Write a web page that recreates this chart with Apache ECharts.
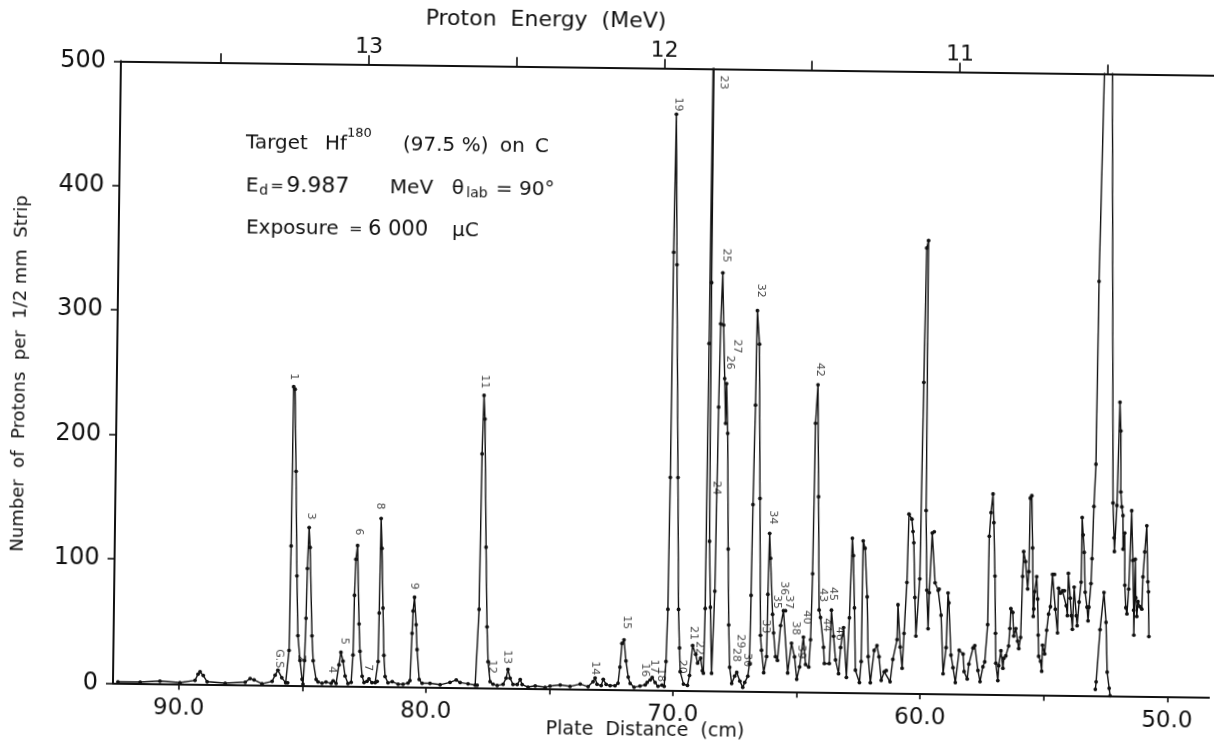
<!DOCTYPE html>
<html>
<head>
<meta charset="utf-8">
<script src="https://cdn.jsdelivr.net/npm/echarts@6/dist/echarts.min.js"></script>
<style>
  html, body { margin: 0; padding: 0; background: #fff; overflow: hidden; }
  /* the original plate plot sits slightly rotated on its page */
  #chart { width: 1214px; height: 742px; transform: rotate(0.733deg); transform-origin: 607px 371px; }
</style>
</head>
<body>
<div id="chart"></div>
<script>
// Proton spectrum, Hf-180 (d,p): plate distance (cm) vs protons per 1/2 mm strip
const plateCm = [
  92.47,91.57,90.77,89.96,89.35,89.23,89.15,89.02,88.86,88.13,87.32,87.12,86.96,86.64,86.23,86.11,86.00,85.84,85.68,85.60,
  85.56,85.53,85.51,85.45,85.37,85.28,85.21,85.11,85.02,84.98,
  84.93,84.89,84.86,84.81,84.76,84.64,84.58,84.45,84.37,84.21,84.05,83.84,83.76,83.64,83.53,83.46,83.37,83.28,83.16,83.03,
  82.97,82.94,82.90,82.84,82.74,82.69,82.59,82.51,82.39,82.31,82.19,82.06,
  81.98,81.95,81.93,81.90,81.85,81.78,81.72,81.66,81.54,81.37,81.13,80.93,80.73,
  80.65,80.59,80.56,80.51,80.43,80.38,80.28,80.16,79.84,79.43,79.03,78.78,78.62,78.30,78.01,
  77.93,77.89,77.85,77.80,77.75,77.64,77.56,77.50,77.41,77.29,77.12,76.88,76.76,76.69,76.60,76.48,76.31,76.19,76.11,75.87,
  75.58,75.18,74.98,74.57,74.17,73.76,73.44,73.24,73.16,73.08,72.91,72.83,72.71,72.55,72.35,72.23,
  72.16,72.09,72.01,71.92,71.82,71.74,71.58,71.34,71.13,71.05,70.93,70.85,70.73,70.61,70.45,70.36,70.30,
  70.25,70.22,70.20,70.16,70.06,69.91,69.82,69.76,69.72,69.58,69.42,69.34,69.23,69.10,69.02,68.90,68.82,68.78,
  68.74,68.72,68.68,68.66,68.65,68.60,68.53,68.45,
  68.36,68.30,68.26,68.20,68.14,68.07,68.01,67.99,67.92,67.84,67.78,67.72,67.63,67.51,67.43,67.30,67.18,67.10,66.98,66.92,
  66.89,66.86,66.81,66.78,66.68,66.58,66.49,66.44,66.34,66.23,66.21,66.17,66.12,66.01,65.96,65.87,65.79,65.68,65.57,65.49,
  65.37,65.23,65.10,65.00,64.89,64.75,64.65,64.52,64.46,
  64.41,64.37,64.29,64.21,64.13,64.07,63.93,63.89,63.69,63.63,63.53,63.44,63.31,63.24,63.13,62.99,62.90,62.82,62.77,62.70,
  62.63,62.46,62.40,62.38,62.30,62.19,62.12,62.02,61.88,61.77,61.68,61.58,61.46,61.38,61.22,61.12,60.96,60.94,60.83,60.74,
  60.68,60.59,60.54,60.42,60.37,60.33,60.26,60.20,60.07,60.01,59.96,59.89,59.85,59.78,59.71,59.68,59.59,59.51,59.45,59.32,
  59.28,59.19,59.08,58.97,58.92,58.88,58.77,58.68,58.58,58.44,58.28,58.23,58.10,58.04,57.88,57.81,57.67,57.58,57.47,57.40,
  57.30,57.28,57.22,57.15,57.10,57.03,56.98,56.95,56.86,56.83,56.75,56.66,56.63,56.55,56.44,56.40,56.37,56.29,56.24,56.16,
  56.08,56.03,55.96,55.91,55.88,55.80,55.70,55.66,55.64,55.58,55.52,55.46,55.44,55.41,55.34,55.29,55.25,55.22,55.14,55.09,
  55.07,54.98,54.91,54.84,54.77,54.70,54.62,54.57,54.47,54.45,54.37,54.29,54.21,54.13,54.08,54.06,53.97,53.92,53.87,53.82,
  53.72,53.68,53.61,53.54,53.53,53.48,53.43,53.37,53.29,53.24,53.21,53.14,53.11,53.06,53.00,52.97,52.78,52.62,52.29,52.23,
  52.21,52.13,52.06,52.01,51.98,51.93,51.88,51.86,51.80,51.77,51.72,51.67,51.61,51.53,51.46,51.40,51.38,51.36,51.32,51.27,
  51.23,51.15,51.07,51.04,50.98,50.91,50.84,50.81,50.77
];
const counts = [
  1,1,2,1,3,8,10,7,2,1,2,5,4,1,3,8,12,6,2,2,
  28,112,240,238,172,88,40,20,5,1,
  20,54,94,127,111,40,20,5,3,2,3,2,4,2,17,27,20,8,2,3,
  25,73,102,113,50,28,8,3,4,6,3,3,
  4,20,59,135,111,63,25,8,3,4,2,2,3,
  5,43,61,72,50,30,6,3,3,2,4,6,4,3,2,
  2,63,188,235,216,113,49,21,5,3,2,3,8,15,8,3,3,7,3,1,
  2,1,2,3,2,4,2,6,9,4,3,8,4,3,3,5,
  18,37,40,23,10,5,2,3,4,6,8,10,6,3,4,3,23,
  65,171,352,463,342,171,65,34,15,5,4,12,36,29,22,26,16,14,
  66,279,700,700,328,120,67,14,
  80,228,295,336,294,251,215,247,207,114,53,19,6,12,15,8,3,7,12,22,
  77,150,230,306,279,155,45,33,15,28,78,127,107,62,47,28,25,53,65,65,
  15,39,28,10,20,44,22,20,42,
  95,216,247,157,66,60,36,23,23,66,45,26,15,36,52,12,60,124,110,68,
  18,8,25,122,116,77,29,8,34,38,29,10,17,18,9,27,43,71,37,20,
  48,89,144,140,130,121,77,46,92,250,358,364,147,83,52,81,129,130,89,83,
  84,63,16,37,81,73,31,21,9,35,32,18,12,24,37,39,19,10,22,26,
  56,127,146,161,138,95,49,25,11,23,35,21,29,31,39,53,69,66,47,53,
  43,37,46,95,115,107,85,99,158,160,118,63,69,83,95,77,48,31,27,19,
  40,33,52,65,71,97,97,69,50,86,82,84,84,72,64,98,78,64,53,87,
  64,56,75,91,143,129,115,83,71,60,71,90,110,152,186,333,620,620,155,127,
  116,153,236,213,164,152,145,118,131,89,71,66,86,149,109,69,49,110,79,64,
  76,72,70,96,116,137,92,84,48
];

// the strongest group again, drawn at reduced scale below the clipped peak
const insetCm = [52.91, 52.88, 52.75, 52.61, 52.51, 52.44, 52.35, 52.31];
const insetCounts = [5, 11, 53, 83, 59, 19, 6, 0];

// peak identifications and where each number is written
const peakNames = ['G.S.','1','2','3','4','5','6','7','8','9','11','12','13','14','15','16','17','18','19','20',
  '21','22','23','24','25','26','27','28','29','30','32','33','34','35','36','37','38','39','40','42','43','44','45','46'];
const peakLabelCm = [85.96,85.51,85.07,84.74,83.82,83.34,82.79,82.36,81.94,80.55,77.77,77.35,76.71,73.17,71.90,71.16,70.79,70.50,70.10,69.65,
  69.22,68.97,68.25,68.36,68.08,67.86,67.59,67.47,67.31,67.02,66.64,66.30,66.04,65.83,65.56,65.34,65.09,64.84,64.61,64.22,63.98,63.80,63.57,63.31];
const peakLabelCounts = [20,248,22,136,13,36,124,15,145,81,246,17,25,17,54,16,19,12,471,19,
  46,34,489,163,350,264,277,29,40,25,322,52,140,72,83,72,51,32,60,259,78,54,79,47];

// axis ticks
const plateTicks = [90, 85, 80, 75, 70, 65, 60, 55, 50];
const plateLabels = [90, 80, 70, 60, 50];
const energyTicks = [13.5, 13, 12.5, 12, 11.5, 11, 10.5];
const energyLabels = [13, 12, 11];

const INK = '#111';
const FONT = '"DejaVu Sans", sans-serif';

const spectrum = plateCm.map((x, i) => [x, counts[i]]);
const inset = insetCm.map((x, i) => [x, insetCounts[i]]);
const labels = peakNames.map((n, i) => [peakLabelCm[i], peakLabelCounts[i], n]);

function txt(text, x, y, size, align) {
  return {
    type: 'text', x: x, y: y, silent: true, z: 50,
    style: { text: text, fill: INK, font: size + 'px ' + FONT, align: align || 'left', verticalAlign: 'middle' }
  };
}

const chart = echarts.init(document.getElementById('chart'), null, { renderer: 'canvas' });
chart.setOption({
  animation: false,
  backgroundColor: '#fff',
  textStyle: { fontFamily: FONT, color: INK },
  grid: { left: 117, right: 0, top: 67.3, bottom: 52.7, outerBoundsMode: 'none' },
  xAxis: [
    {
      type: 'value', position: 'bottom', inverse: true, min: 48.27, max: 92.67,
      axisLine: { show: true, lineStyle: { color: INK, width: 2 } },
      axisTick: { show: true, customValues: plateTicks, length: 6, lineStyle: { color: INK, width: 1.6 } },
      axisLabel: { customValues: plateLabels, formatter: v => v.toFixed(1), fontSize: 23, color: INK, margin: 13, fontFamily: FONT },
      splitLine: { show: false }
    },
    {
      type: 'value', position: 'top', inverse: true, min: 10.127, max: 13.839,
      axisLine: { show: true, lineStyle: { color: INK, width: 2 } },
      axisTick: { show: true, customValues: energyTicks, length: 9, lineStyle: { color: INK, width: 1.6 } },
      axisLabel: { customValues: energyLabels, formatter: v => String(v), fontSize: 22, color: INK, margin: 6, fontFamily: FONT },
      splitLine: { show: false }
    }
  ],
  yAxis: {
    type: 'value', min: 0, max: 500, interval: 100,
    axisLine: { show: true, lineStyle: { color: INK, width: 2 } },
    axisTick: { show: true, length: 7, lineStyle: { color: INK, width: 1.6 } },
    axisLabel: { fontSize: 24, color: INK, margin: 15, fontFamily: FONT },
    splitLine: { show: false }
  },
  series: [
    {
      type: 'line', data: spectrum, xAxisIndex: 0,
      symbol: 'circle', symbolSize: 3.8, showAllSymbol: true, sampling: null,
      lineStyle: { color: INK, width: 1.4 }, itemStyle: { color: INK },
      clip: true, z: 3
    },
    {
      type: 'line', data: inset, xAxisIndex: 0,
      symbol: 'circle', symbolSize: 3.8, showAllSymbol: true,
      lineStyle: { color: INK, width: 1.4 }, itemStyle: { color: INK },
      clip: true, z: 3
    },
    {
      type: 'scatter', data: labels, xAxisIndex: 0,
      symbolSize: 1, itemStyle: { color: 'rgba(0,0,0,0)' },
      label: {
        show: true, position: 'inside', rotate: -90,
        formatter: p => p.data[2], fontSize: 11, color: INK, fontFamily: FONT
      },
      z: 4
    }
  ],
  graphic: { elements: [
    txt('Proton  Energy  (MeV)', 541.5, 20.8, 22, 'center'),
    txt('Plate  Distance  (cm)', 649.6, 730.5, 19, 'center'),
    {
      type: 'text', x: 20, y: 381, rotation: Math.PI / 2, silent: true,
      style: { text: 'Number  of  Protons  per  1/2 mm  Strip', fill: INK, font: '18px ' + FONT, align: 'center', verticalAlign: 'middle' }
    },
    // run conditions
    txt('Target', 243, 147.6, 20),
    txt('Hf', 322, 147.6, 20),
    txt('180', 344, 137, 13),
    txt('(97.5 %)', 400, 147.6, 20),
    txt('on', 497, 147.6, 20),
    txt('C', 532, 147.6, 20),
    txt('E', 243.6, 190.6, 20),
    txt('d', 257, 195, 14),
    txt('=', 268, 190.6, 16),
    txt('9.987', 284, 190.6, 22),
    txt('MeV', 387.6, 190.6, 20),
    txt('θ', 449.6, 190.6, 20),
    txt('lab', 464, 195, 14),
    txt('= 90°', 493.6, 190.6, 20),
    txt('Exposure', 244.2, 232.6, 20),
    txt('=', 347.2, 232.6, 16),
    txt('6 000', 366.2, 232.6, 21),
    txt('µC', 450.2, 232.6, 20)
  ] }
});
</script>
</body>
</html>
